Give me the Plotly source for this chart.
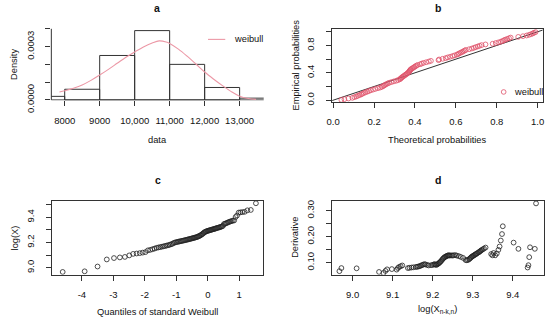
import plotly.graph_objects as go

W, H = 550, 332
FONT = "Liberation Sans, Arial, sans-serif"
RED = "#DF536B"

# ---------------- data ----------------
# panel a: histogram (density) and fitted weibull density
bin_edges = [7000, 8000, 9000, 10000, 11000, 12000, 13000, 14000]
hist_density = [0.00002, 0.00006, 0.00025, 0.00039, 0.00020, 0.00007, 0.00001]
dens_x = [7850, 8000, 8250, 8500, 8750, 9000, 9250, 9500, 9750, 10000, 10250, 10500,
          10700, 10900, 11000, 11250, 11500, 11750, 12000, 12250, 12500, 12750, 13000,
          13250, 13470]
dens_y = [0.000045, 0.000052, 0.000066, 0.000084, 0.000110, 0.000140, 0.000172,
          0.000206, 0.000240, 0.000270, 0.000298, 0.000320, 0.000332, 0.000326,
          0.000318, 0.000286, 0.000246, 0.000202, 0.000157, 0.000118, 0.000082,
          0.000048, 0.000021, 0.000008, 0.000003]

# panel b: P-P plot
pp_empirical = [0.005, 0.015, 0.025, 0.035, 0.045, 0.055, 0.065, 0.075, 0.085, 0.095,
                0.105, 0.115, 0.125, 0.135, 0.145, 0.155, 0.165, 0.175, 0.185, 0.195,
                0.205, 0.215, 0.225, 0.235, 0.245, 0.255, 0.265, 0.275, 0.285, 0.295,
                0.305, 0.315, 0.325, 0.335, 0.345, 0.355, 0.365, 0.375, 0.385, 0.395,
                0.405, 0.415, 0.425, 0.435, 0.445, 0.455, 0.465, 0.475, 0.485, 0.495,
                0.505, 0.515, 0.525, 0.535, 0.545, 0.555, 0.565, 0.575, 0.585, 0.595,
                0.605, 0.615, 0.625, 0.635, 0.645, 0.655, 0.665, 0.675, 0.685, 0.695,
                0.705, 0.715, 0.725, 0.735, 0.745, 0.755, 0.765, 0.775, 0.785, 0.795,
                0.805, 0.815, 0.825, 0.835, 0.845, 0.855, 0.865, 0.875, 0.885, 0.895,
                0.905, 0.915, 0.925, 0.935, 0.945, 0.955, 0.965, 0.975, 0.985, 0.995]
pp_theoretical = [0.040, 0.055, 0.075, 0.094, 0.104, 0.113, 0.121, 0.129, 0.137, 0.143,
                  0.150, 0.158, 0.167, 0.175, 0.184, 0.195, 0.206, 0.219, 0.230, 0.238,
                  0.244, 0.249, 0.254, 0.260, 0.267, 0.274, 0.285, 0.297, 0.309, 0.318,
                  0.326, 0.329, 0.333, 0.337, 0.341, 0.346, 0.351, 0.355, 0.360, 0.364,
                  0.368, 0.371, 0.373, 0.376, 0.378, 0.381, 0.387, 0.392, 0.397, 0.402,
                  0.407, 0.413, 0.425, 0.433, 0.442, 0.455, 0.468, 0.478, 0.515, 0.518,
                  0.535, 0.550, 0.560, 0.572, 0.584, 0.594, 0.605, 0.611, 0.617, 0.624,
                  0.631, 0.637, 0.643, 0.649, 0.665, 0.678, 0.688, 0.697, 0.707, 0.716,
                  0.726, 0.745, 0.780, 0.795, 0.808, 0.820, 0.828, 0.835, 0.842, 0.851,
                  0.860, 0.868, 0.905, 0.928, 0.946, 0.958, 0.968, 0.976, 0.982, 0.990]
diag_x = [-0.1, 1.1]

# panel c: Weibull QQ plot
wq_quantiles = [-4.610, -3.912, -3.502, -3.209, -2.980, -2.793, -2.634, -2.495, -2.372, -2.261,
                -2.160, -2.068, -1.982, -1.902, -1.828, -1.758, -1.691, -1.628, -1.568, -1.511,
                -1.456, -1.404, -1.353, -1.304, -1.257, -1.212, -1.168, -1.125, -1.084, -1.043,
                -1.003, -0.965, -0.927, -0.891, -0.855, -0.819, -0.785, -0.751, -0.717, -0.685,
                -0.652, -0.621, -0.589, -0.559, -0.528, -0.498, -0.468, -0.439, -0.410, -0.381,
                -0.352, -0.324, -0.296, -0.268, -0.240, -0.213, -0.185, -0.158, -0.131, -0.104,
                -0.077, -0.050, -0.023, 0.004, 0.031, 0.058, 0.085, 0.112, 0.139, 0.166,
                0.194, 0.221, 0.249, 0.277, 0.305, 0.334, 0.363, 0.392, 0.421, 0.451,
                0.482, 0.513, 0.545, 0.578, 0.611, 0.646, 0.681, 0.718, 0.756, 0.796,
                0.838, 0.883, 0.930, 0.982, 1.038, 1.101, 1.172, 1.257, 1.367, 1.529]
log_x = [8.967, 8.972, 9.010, 9.066, 9.077, 9.082, 9.086, 9.098, 9.110, 9.113,
         9.116, 9.120, 9.124, 9.138, 9.142, 9.147, 9.152, 9.158, 9.161, 9.164,
         9.167, 9.170, 9.173, 9.176, 9.179, 9.182, 9.186, 9.190, 9.196, 9.200,
         9.203, 9.205, 9.207, 9.209, 9.211, 9.213, 9.215, 9.217, 9.219, 9.221,
         9.223, 9.225, 9.227, 9.229, 9.231, 9.233, 9.235, 9.237, 9.239, 9.241,
         9.243, 9.246, 9.249, 9.252, 9.256, 9.260, 9.265, 9.270, 9.276, 9.282,
         9.285, 9.288, 9.291, 9.293, 9.295, 9.297, 9.299, 9.301, 9.303, 9.305,
         9.307, 9.309, 9.311, 9.314, 9.316, 9.318, 9.320, 9.322, 9.325, 9.328,
         9.332, 9.346, 9.349, 9.352, 9.356, 9.360, 9.364, 9.367, 9.370, 9.373,
         9.375, 9.402, 9.414, 9.437, 9.439, 9.441, 9.443, 9.455, 9.458, 9.511]

# panel d: derivative plot (x = log X_{n-k,n})
derivative = [0.067, 0.079, 0.078, 0.064, 0.060, 0.068, 0.074, 0.075, 0.073, 0.079,
              0.083, 0.086, 0.089, 0.079, 0.080, 0.081, 0.082, 0.083, 0.084, 0.085,
              0.086, 0.088, 0.090, 0.092, 0.094, 0.093, 0.091, 0.089, 0.090, 0.091,
              0.093, 0.094, 0.092, 0.091, 0.093, 0.095, 0.097, 0.100, 0.103, 0.106,
              0.110, 0.114, 0.117, 0.120, 0.122, 0.124, 0.125, 0.127, 0.128, 0.128,
              0.127, 0.128, 0.127, 0.128, 0.129, 0.127, 0.125, 0.122, 0.118, 0.110,
              0.109, 0.110, 0.113, 0.116, 0.119, 0.122, 0.124, 0.126, 0.128, 0.130,
              0.132, 0.134, 0.136, 0.139, 0.141, 0.143, 0.146, 0.148, 0.151, 0.154,
              0.158, 0.133, 0.128, 0.137, 0.128, 0.135, 0.149, 0.162, 0.185, 0.210,
              0.240, 0.177, 0.153, 0.081, 0.090, 0.121, 0.159, 0.153, 0.328]
deriv_x = log_x[:len(derivative)]

# ticks: labelled ticks and unlabelled (R drops overlapping labels)
a_xticks = [8000, 9000, 10000, 11000, 12000, 13000]
a_xlabels = ["8000", "9000", "10,000", "11,000", "12,000", "13,000"]
a_yticks = [0, 0.0003]
a_ylabels = ["0.0000", "0.0003"]
a_yminor = [0.0001, 0.0002, 0.0004]
b_xticks = [0, 0.2, 0.4, 0.6, 0.8, 1.0]
b_xlabels = ["0.0", "0.2", "0.4", "0.6", "0.8", "1.0"]
b_yticks = [0, 0.4, 0.8]
b_ylabels = ["0.0", "0.4", "0.8"]
b_yminor = [0.2, 0.6, 1.0]
c_xticks = [-4, -3, -2, -1, 0, 1]
c_xlabels = ["-4", "-3", "-2", "-1", "0", "1"]
c_yticks = [9.0, 9.2, 9.4]
c_ylabels = ["9.0", "9.2", "9.4"]
c_yminor = [9.1, 9.3, 9.5]
d_xticks = [9.0, 9.1, 9.2, 9.3, 9.4]
d_xlabels = ["9.0", "9.1", "9.2", "9.3", "9.4"]
d_yticks = [0.10, 0.20, 0.30]
d_ylabels = ["0.10", "0.20", "0.30"]
d_yminor = [0.15, 0.25]

# ---------------- layout helpers ----------------
def fx(p):
    return p / W

def fy(p):
    return 1 - p / H

def dom_x(a, b):
    return [fx(a), fx(b)]

def dom_y(top, bottom):
    return [fy(bottom), fy(top)]

TICKFONT = dict(family=FONT, size=9.5, color="#111")
LINEC = "#333"

def xaxis_cfg(domain, rng, tv, tt, anchor, box=True):
    return dict(domain=domain, range=rng, anchor=anchor, tickmode="array",
                tickvals=tv, ticktext=tt,
                ticks="outside", ticklen=5, tickwidth=1, tickcolor=LINEC,
                showline=box, mirror=box, linecolor=LINEC, linewidth=1,
                showgrid=False, zeroline=False, tickfont=TICKFONT,
                ticklabelstandoff=6, fixedrange=True)

def yaxis_cfg(domain, rng, tv, tt, minor_vals, anchor, box=True):
    return dict(domain=domain, range=rng, anchor=anchor, tickmode="array",
                tickvals=tv, ticktext=tt,
                ticks="outside", ticklen=5, tickwidth=1, tickcolor=LINEC,
                minor=dict(tickmode="array", tickvals=minor_vals, ticks="outside",
                           ticklen=5, tickwidth=1, tickcolor=LINEC, showgrid=False),
                showline=box, mirror=box, linecolor=LINEC, linewidth=1,
                showgrid=False, zeroline=False, tickfont=TICKFONT, tickangle=-90,
                ticklabelstandoff=8, fixedrange=True)

fig = go.Figure()

# panel a
bin_centers = [(bin_edges[i] + bin_edges[i + 1]) / 2 for i in range(len(hist_density))]
bin_widths = [bin_edges[i + 1] - bin_edges[i] for i in range(len(hist_density))]
fig.add_trace(go.Bar(x=bin_centers, y=hist_density, width=bin_widths,
                     marker=dict(color="rgba(0,0,0,0)", line=dict(color="#333", width=1)),
                     xaxis="x", yaxis="y", showlegend=False, hoverinfo="skip"))
fig.add_trace(go.Scatter(x=dens_x, y=dens_y, mode="lines",
                         line=dict(color="#EC98A6", width=1.1, shape="spline"),
                         xaxis="x", yaxis="y", showlegend=False, hoverinfo="skip"))

# panel b
fig.add_trace(go.Scatter(x=diag_x, y=diag_x, mode="lines",
                         line=dict(color="#333", width=1),
                         xaxis="x2", yaxis="y2", showlegend=False, hoverinfo="skip"))
fig.add_trace(go.Scatter(x=pp_theoretical, y=pp_empirical, mode="markers",
                         marker=dict(symbol="circle-open", size=4.8, color=RED,
                                     line=dict(width=0.8, color=RED)),
                         xaxis="x2", yaxis="y2", showlegend=False, hoverinfo="skip"))

# panel c
fig.add_trace(go.Scatter(x=wq_quantiles, y=log_x, mode="markers",
                         marker=dict(symbol="circle-open", size=4.8, color="#222",
                                     line=dict(width=0.8, color="#222")),
                         xaxis="x3", yaxis="y3", showlegend=False, hoverinfo="skip"))

# panel d
fig.add_trace(go.Scatter(x=deriv_x, y=derivative, mode="markers",
                         marker=dict(symbol="circle-open", size=4.8, color="#222",
                                     line=dict(width=0.8, color="#222")),
                         xaxis="x4", yaxis="y4", showlegend=False, hoverinfo="skip"))

# axis domains / ranges (pixel based)
a_dx, a_dy = dom_x(46, 261.5), dom_y(28, 104.5)
b_dx, b_dy = dom_x(331, 544.5), dom_y(29.7, 106.2)
c_dx, c_dy = dom_x(46.5, 260.5), dom_y(209, 286)
d_dx, d_dy = dom_x(331, 545.5), dom_y(209, 286)

fig.update_layout(
    xaxis=xaxis_cfg(a_dx, [7618, 13688], a_xticks, a_xlabels, "y", box=False),
    yaxis=yaxis_cfg(a_dy, [-0.0000027, 0.0004108], a_yticks, a_ylabels, a_yminor, "x", box=False),
    xaxis2=xaxis_cfg(b_dx, [-0.0048, 1.0241], b_xticks, b_xlabels, "y2"),
    yaxis2=yaxis_cfg(b_dy, [-0.0267, 1.047], b_yticks, b_ylabels, b_yminor, "x2"),
    xaxis3=xaxis_cfg(c_dx, [-4.955, 1.745], c_xticks, c_xlabels, "y3"),
    yaxis3=yaxis_cfg(c_dy, [8.9444, 9.5304], c_yticks, c_ylabels, c_yminor, "x3"),
    xaxis4=xaxis_cfg(d_dx, [8.949, 9.4768], d_xticks, d_xlabels, "y4"),
    yaxis4=yaxis_cfg(d_dy, [0.053, 0.338], d_yticks, d_ylabels, d_yminor, "x4"),
)

shapes = [
    # panel a axis lines (R style: from first to last tick)
    dict(type="line", xref="x", yref="y", x0=a_xticks[0], x1=a_xticks[-1], y0=0, y1=0,
         line=dict(color=LINEC, width=1)),
    dict(type="line", xref="x domain", yref="y", x0=0, x1=0, y0=0, y1=a_yminor[-1],
         line=dict(color=LINEC, width=1)),
    # panel a legend sample line
    dict(type="line", xref="paper", yref="paper", x0=fx(205), x1=fx(222.5), y0=fy(41), y1=fy(41),
         line=dict(color="#EC98A6", width=1.1)),
    # panel b legend symbol
    dict(type="circle", xref="paper", yref="paper", x0=fx(502.6), x1=fx(507.4),
         y0=fy(98.1), y1=fy(93.3), line=dict(color=RED, width=0.8)),
]

def ann(text, x, y, size=9.3, angle=0, bold=False, xanchor="center"):
    t = f"<b>{text}</b>" if bold else text
    return dict(text=t, x=fx(x), y=fy(y), xref="paper", yref="paper", showarrow=False,
                xanchor=xanchor, yanchor="middle", textangle=angle,
                font=dict(family=FONT, size=size, color="#111"))

annotations = [
    ann("a", 153.7, 8.5, size=10.5, bold=True),
    ann("b", 438.3, 8.5, size=10.5, bold=True),
    ann("c", 154, 187.5, size=10.5, bold=True),
    ann("d", 438.3, 187.5, size=10.5, bold=True),
    ann("data", 154, 145.7),
    ann("Density", 8.7, 67, angle=-90),
    ann("Theoretical probabilities", 437.8, 145.7),
    ann("Empirical probabilities", 293.3, 68.2, angle=-90),
    ann("Quantiles of standard Weibull", 153.5, 324.5),
    ann("log(X)", 8.7, 247.5, angle=-90),
    ann("log(X<sub>n-k,n</sub>)", 438, 322),
    ann("Derivative", 293.3, 247.5, angle=-90),
    ann("weibull", 229, 41, xanchor="left"),
    ann("weibull", 513.3, 96.2, xanchor="left"),
]

fig.update_layout(
    width=W, height=H, margin=dict(l=0, r=0, t=0, b=0),
    paper_bgcolor="white", plot_bgcolor="white",
    shapes=shapes, annotations=annotations, showlegend=False,
    font=dict(family=FONT, color="#111"),
)

fig.write_html("out.html", config={"displayModeBar": False},
               post_script="document.body.style.margin='0';document.body.style.padding='0';")
